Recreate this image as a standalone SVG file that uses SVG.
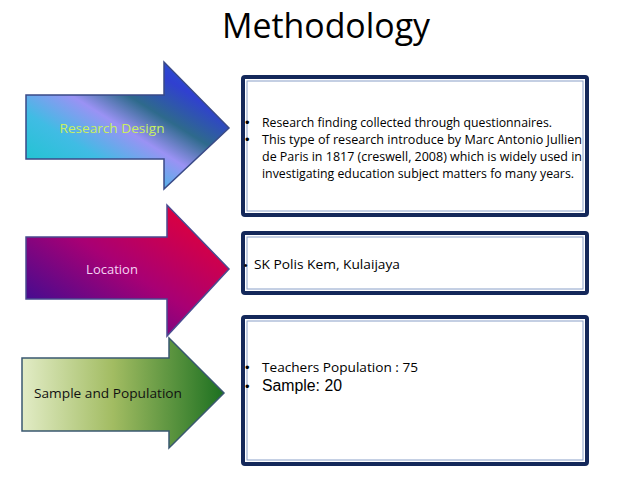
<svg xmlns="http://www.w3.org/2000/svg" width="638" height="479" viewBox="0 0 638 479">
<defs>
<linearGradient id="g1" x1="0" y1="1" x2="1" y2="0">
<stop offset="0" stop-color="#10c8c8"/>
<stop offset="0.3" stop-color="#40bce4"/>
<stop offset="0.48" stop-color="#9a92f4"/>
<stop offset="0.62" stop-color="#2e6a8c"/>
<stop offset="0.78" stop-color="#3040d0"/>
<stop offset="1" stop-color="#1e64d4"/>
</linearGradient>
<linearGradient id="g2" x1="0" y1="1" x2="1" y2="0">
<stop offset="0" stop-color="#20109a"/>
<stop offset="0.5" stop-color="#a80074"/>
<stop offset="1" stop-color="#f0002a"/>
</linearGradient>
<linearGradient id="g3" x1="0" y1="0" x2="1" y2="0">
<stop offset="0" stop-color="#e2ecc6"/>
<stop offset="0.45" stop-color="#a2bc62"/>
<stop offset="1" stop-color="#1c7020"/>
</linearGradient>
<style>
.box{fill:#fff;stroke:#14285a;stroke-width:4}
.inner{fill:none;stroke:#8aa0c8;stroke-width:1}
.t{font-family:"Open Sans","Liberation Sans",sans-serif;font-size:12px;fill:#000}
.a{font-family:"Liberation Sans",Arial,sans-serif;fill:#000}
.b{font-family:"Liberation Sans",Arial,sans-serif;font-size:13px;fill:#000}
.lbl{font-family:"Open Sans","Liberation Sans",sans-serif;font-size:13px;text-anchor:middle}
</style>
</defs>
<text x="222" y="38" font-family="'Open Sans','Liberation Sans',sans-serif" font-size="34" fill="#000" textLength="208" lengthAdjust="spacingAndGlyphs">Methodology</text>

<g id="arrow-research-design">
<path d="M26,95 H164 V62 L229,128 L164,189 V159 H26 Z" fill="url(#g1)" stroke="#3a4a86" stroke-width="1.5"/>
<text class="lbl" x="112" y="133" fill="#c8f060" textLength="105" lengthAdjust="spacingAndGlyphs">Research Design</text>
</g>
<g id="arrow-location">
<path d="M26,237 H167 V205 L229,269 L167,336 V299 H26 Z" fill="url(#g2)" stroke="#4a4a90" stroke-width="1.5"/>
<text class="lbl" x="112" y="274" fill="#f4d4f4">Location</text>
</g>
<g id="arrow-sample">
<path d="M22,358 H169 V338 L224,393 L169,448 V431 H22 Z" fill="url(#g3)" stroke="#3a5870" stroke-width="1.5"/>
<text class="lbl" x="108" y="398" fill="#111" textLength="148" lengthAdjust="spacingAndGlyphs">Sample and Population</text>
</g>

<g id="box-research-design">
<rect class="box" x="243" y="77" width="344" height="138" rx="2"/>
<rect class="inner" x="247" y="81" width="336" height="130"/>
<text class="b" x="245" y="127">•</text>
<text class="t" x="262" y="127" textLength="290" lengthAdjust="spacingAndGlyphs">Research finding collected through questionnaires.</text>
<text class="b" x="245" y="144">•</text>
<text class="t" x="262" y="144" textLength="320" lengthAdjust="spacingAndGlyphs">This type of research introduce by Marc Antonio Jullien</text>
<text class="t" x="262" y="161" textLength="320" lengthAdjust="spacingAndGlyphs">de Paris in 1817 (creswell, 2008) which is widely used in</text>
<text class="t" x="262" y="178" textLength="312" lengthAdjust="spacingAndGlyphs">investigating education subject matters fo many years.</text>
</g>
<g id="box-location">
<rect class="box" x="243" y="233" width="344" height="60" rx="2"/>
<rect class="inner" x="247" y="237" width="336" height="52"/>
<text class="b" x="244" y="269" style="font-size:10px">•</text>
<text class="t" x="254" y="269" style="font-size:13px" textLength="146" lengthAdjust="spacingAndGlyphs">SK Polis Kem, Kulaijaya</text>
</g>
<g id="box-sample">
<rect class="box" x="243" y="317" width="344" height="147" rx="2"/>
<rect class="inner" x="247" y="321" width="336" height="139"/>
<text class="b" x="245" y="372">•</text>
<text class="t" x="262" y="372" style="font-size:13px" textLength="156" lengthAdjust="spacingAndGlyphs">Teachers Population : 75</text>
<text class="b" x="245" y="391">•</text>
<text class="a" x="262" y="391" style="font-size:16px" textLength="80" lengthAdjust="spacingAndGlyphs">Sample: 20</text>
</g>
</svg>
